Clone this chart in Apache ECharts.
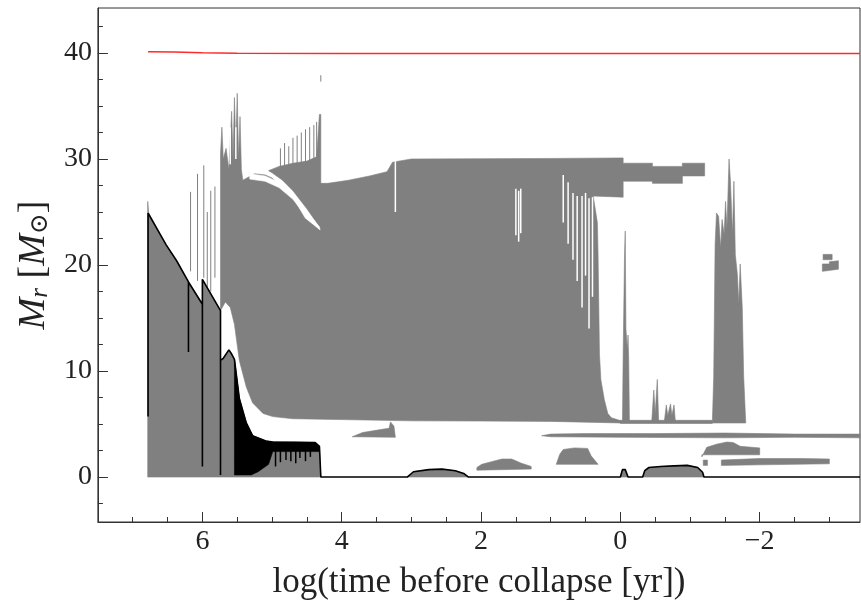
<!DOCTYPE html>
<html><head><meta charset="utf-8">
<script src="https://cdn.jsdelivr.net/npm/echarts@6/dist/echarts.min.js"></script>
<style>html,body{margin:0;padding:0;background:#fff;overflow:hidden}#c{width:861px;height:605px}</style>
</head><body><div id="c"></div>
<script>
// ---------- axis ticks ----------
const xMajorTicks = [-2, 0, 2, 4, 6];
const xMinorTicks = [-3, -2.5, -1.5, -1, -0.5, 0.5, 1, 1.5, 2.5, 3, 3.5, 4.5, 5, 5.5, 6.5, 7];
const yMajorTicks = [0, 10, 20, 30, 40];
const yMinorTicks = [-2.5, 2.5, 5, 7.5, 12.5, 15, 17.5, 22.5, 25, 27.5, 32.5, 35, 37.5, 42.5];

// ---------- lines: [log t, M_r] ----------
const totalMass = [[6.78,40.12],[6.4,40.08],[6.0,40.02],[5.5,39.97],[4.0,39.95],[2.0,39.95],[0.0,39.95],[-3.44,39.95]];
const coreBoundary = [[6.78,5.7],[6.78,24.9],[6.52,21.9],[6.37,20.4],[6.2,18.4],[6.2,11.8],[6.2,18.4],[6.0,16.3],[6.0,1.0],[6.0,18.65],
  [5.74,15.7],[5.74,0.2],[5.74,11.0],[5.70,11.2],[5.62,12.0],[5.58,11.6],[5.54,11.1],[5.47,7.4],[5.37,5.1],[5.28,3.9],[5.09,3.4],
  [4.99,3.3],[4.38,3.25],[4.32,2.9],[4.30,0],[3.06,0],[2.97,0.5],[2.75,0.7],[2.56,0.75],[2.37,0.6],[2.25,0.34],[2.18,0],
  [0.0,0],[-0.03,0.7],[-0.07,0.7],[-0.11,0],[-0.32,0],[-0.35,0.6],[-0.41,0.9],[-0.58,1.0],[-0.77,1.05],[-0.96,1.1],[-1.11,0.9],
  [-1.18,0.45],[-1.2,0],[-3.44,0]];

// ---------- convective zones (polygons) ----------
const coreZone = [[6.785,0],[6.785,26.0],[6.77,24.9],[6.52,21.9],[6.37,20.4],[6.2,18.4],[6.0,16.3],[6.0,18.65],[5.74,15.7],[5.74,11.0],
  [5.70,11.2],[5.62,12.0],[5.58,11.6],[5.54,11.1],[5.47,7.4],[5.37,5.1],[5.28,3.9],[5.09,3.4],[4.99,3.3],[4.38,3.25],[4.32,2.9],[4.30,0]];
const envelopeZone = [[5.74,15.7],[5.74,30.5],[5.72,33],[5.70,30],[5.66,31],[5.62,29],[5.58,34.5],[5.56,30],[5.54,35.8],[5.52,31],
  [5.50,36.2],[5.48,30],[5.46,34],[5.44,29],[5.42,28.0],[5.25,28.6],[5.1,28.5],[5.0,28.2],[4.7,26.3],[4.53,24.4],[4.32,23.3],
  [4.31,27.7],[4.2,27.7],[3.9,28.0],[3.6,28.4],[3.35,28.8],[3.27,29.7],[3.0,30.0],[1.0,30.05],[0.0,30.1],[-0.04,30.1],
  [-0.04,29.6],[-0.46,29.6],[-0.46,29.3],[-0.89,29.3],[-0.89,29.6],[-1.21,29.6],[-1.21,28.4],[-0.89,28.4],[-0.89,27.7],
  [-0.46,27.7],[-0.46,27.9],[-0.04,27.9],[-0.04,26.4],[0.39,26.5],[0.33,24],[0.32,21.0],[0.30,11.6],[0.28,9.2],[0.23,7.3],
  [0.18,6.0],[0.13,5.6],[-0.01,5.3],[-0.01,5.1],[1.0,5.25],[2.0,5.28],[3.0,5.3],[3.85,5.4],[4.70,5.5],[4.99,5.7],[5.13,6.0],
  [5.28,7.0],[5.37,8.5],[5.47,11.0],[5.54,14.4],[5.60,16.0],[5.67,16.5]];
const shellSliver = [[5.05,28.9],[4.9,29.3],[4.7,29.6],[4.5,29.8],[4.36,30.2],[4.32,34.2],[4.30,34.2],[4.30,23.3],[4.35,23.9],
  [4.5,25.3],[4.7,27.0],[4.85,28.0],[5.0,28.7]];
const tailStrip = [[0.0,5.35],[-1.32,5.35],[-1.32,5.05],[0.0,5.05]];
const flashA = [[-0.03,5.2],[-0.04,11.5],[-0.06,21],[-0.07,23.2],[-0.08,14],[-0.10,12],[-0.11,13.4],[-0.12,11],[-0.13,5.2]];
const flashB = [[-0.45,5.2],[-0.48,8.2],[-0.50,6],[-0.53,9.2],[-0.55,5.2]];
const flashC = [[-0.63,5.2],[-0.66,6.8],[-0.68,5.8],[-0.72,6.9],[-0.74,5.8],[-0.77,6.8],[-0.79,5.2]];
const lateSpikes = [[-1.32,5.1],[-1.34,9.5],[-1.36,21.9],[-1.38,24.9],[-1.41,24.6],[-1.44,21.6],[-1.46,24.3],[-1.49,22.9],[-1.51,26.0],
  [-1.53,23.5],[-1.56,30.0],[-1.58,27.9],[-1.61,22.9],[-1.63,27.9],[-1.65,21.0],[-1.68,19.1],[-1.70,16.3],[-1.72,20.1],[-1.75,16.0],
  [-1.77,9.5],[-1.80,5.1]];
const blobHigh1 = [[-2.91,21.0],[-3.04,21.0],[-3.04,20.5],[-2.91,20.5]];
const blobHigh2 = [[-2.90,20.1],[-3.0,20.1],[-3.0,20.3],[-3.13,20.4],[-3.13,19.6],[-2.90,19.4]];
const shellA = [[3.85,3.8],[3.70,4.2],[3.42,4.5],[3.32,4.6],[3.30,5.2],[3.25,4.8],[3.23,3.75]];
const shellB = [[2.06,0.9],[1.99,1.2],[1.85,1.45],[1.70,1.7],[1.56,1.7],[1.42,1.3],[1.28,1.0],[1.28,0.75],[2.06,0.65]];
const shellC = [[0.92,1.2],[0.87,2.15],[0.82,2.6],[0.66,2.75],[0.47,2.7],[0.42,2.0],[0.32,1.2]];
const shellD = [[1.13,3.9],[1.0,4.05],[0.5,4.1],[-0.5,4.1],[-1.5,4.15],[-2.5,4.05],[-3.44,4.05],[-3.44,3.7],[-2.5,3.75],[-1.5,3.7],[0,3.75],[1.0,3.8]];
const shellE = [[-1.17,1.9],[-1.24,2.8],[-1.38,3.1],[-1.53,3.3],[-1.62,3.25],[-1.72,2.9],[-2.0,2.75],[-2.0,2.1],[-1.17,2.1]];
const shellF = [[-1.45,1.6],[-2.0,1.75],[-2.6,1.75],[-3.0,1.7],[-3.0,1.25],[-2.0,1.15],[-1.45,1.1]];
const shellG = [[-1.19,1.1],[-1.25,1.1],[-1.25,1.6],[-1.19,1.6]];
const burnA = [[3.06,0],[2.97,0.5],[2.75,0.7],[2.56,0.75],[2.37,0.6],[2.25,0.34],[2.18,0]];
const burnB = [[0.0,0],[-0.03,0.7],[-0.07,0.7],[-0.11,0]];
const burnC = [[-0.32,0],[-0.35,0.6],[-0.41,0.9],[-0.58,1.0],[-0.77,1.05],[-0.96,1.1],[-1.11,0.9],[-1.18,0.45],[-1.2,0]];
const denseZone = [[5.54,0.2],[5.54,11.1],[5.47,7.4],[5.37,5.1],[5.28,3.9],[5.09,3.4],[4.99,3.3],[4.38,3.25],[4.32,2.9],[4.32,2.4],
  [4.99,2.4],[5.05,1.2],[5.2,0.5],[5.3,0.2]];

// ---------- vertical segments: [log t, M bottom, M top] ----------
const grayHairs = [[6.17,19.4,26.9],[6.07,18.5,28.6],[5.98,18.8,29.4],[5.93,17.5,25],[5.88,17.5,27],[5.82,18.8,27.4],
  [4.88,29,31],[4.82,29,31.5],[4.76,29,31.2],[4.70,29,32],[4.64,29,32.2],[4.58,29,32.5],[4.52,29,32.8],[4.46,29,33],
  [4.40,29,33.2],[4.36,29,33.5],[4.30,37.3,37.9]];
const whiteGaps = [[3.23,25,29.8],[1.50,22.8,27.2],[1.46,22.2,27],[1.43,23,27.2],[0.82,24,28.5],[0.75,22,27.8],[0.68,20.5,26.8],
  [0.62,18.5,26.5],[0.55,16,26.5],[0.50,19,26.8],[0.45,14,26.3],[0.40,17,26.4],[5.60,29.5,33],[5.52,30,33]];
const blackHairs = [[4.95,1.0,3.3],[4.88,1.4,3.3],[4.80,1.6,3.3],[4.73,1.5,3.3],[4.66,1.3,3.3],[4.60,1.8,3.3],[4.52,1.5,3.3],[4.45,1.9,3.3]];

const grayPolys = [coreZone, envelopeZone, shellSliver, tailStrip, flashA, flashB, flashC, lateSpikes, blobHigh1, blobHigh2,
  shellA, shellB, shellC, shellD, shellE, shellF, shellG, burnA, burnB, burnC];
const whiteBand = [[5.32,28.6],[5.1,28.4],[4.9,27.8],[4.7,26.7],[4.5,25.0],[4.32,23.6],[4.31,23.3],[4.5,24.5],[4.7,26.2],[4.9,27.3],[5.1,27.9],[5.32,28.1]];

const GRAY = '#808080';
const FONT = '"Liberation Serif", "DejaVu Serif", serif';

function polySeries(polys, color, z) {
  return {
    type: 'custom', z: z, silent: true, clip: true,
    data: polys.map((p, i) => [p[0][0], p[0][1], i]),
    renderItem: function (params, api) {
      const poly = polys[params.dataIndex];
      return { type: 'polygon', shape: { points: poly.map(pt => api.coord(pt)) },
               style: { fill: color, stroke: color, lineWidth: 0.6 } };
    }
  };
}
function segSeries(segs, color, width, z) {
  return {
    type: 'custom', z: z, silent: true, clip: true,
    data: segs,
    encode: { x: 0, y: [1, 2] },
    renderItem: function (params, api) {
      const a = api.coord([api.value(0), api.value(1)]);
      const b = api.coord([api.value(0), api.value(2)]);
      return { type: 'line', shape: { x1: a[0], y1: a[1], x2: b[0], y2: b[1] },
               style: { stroke: color, lineWidth: width } };
    }
  };
}

const axisCol = '#333';
const chart = echarts.init(document.getElementById('c'));
chart.setOption({
  animation: false,
  backgroundColor: '#fff',
  grid: { left: 95, right: 1, top: 8, bottom: 78, show: true, borderColor: axisCol, borderWidth: 1, backgroundColor: 'transparent' },
  xAxis: [{
    type: 'value', inverse: true, min: -3.44, max: 7.5, position: 'bottom',
    axisLine: { show: true, onZero: false, lineStyle: { color: axisCol, width: 1 } },
    axisTick: { show: true, inside: true, length: 10, customValues: xMajorTicks, lineStyle: { color: axisCol } },
    axisLabel: { customValues: xMajorTicks, margin: 6, fontFamily: FONT, fontSize: 28, color: '#222',
      formatter: v => (v < 0 ? '\u2212' + (-v) : String(v)) },
    splitLine: { show: false },
    name: 'log(time before collapse [yr])', nameLocation: 'middle', nameGap: 43,
    nameTextStyle: { fontFamily: FONT, fontSize: 35, color: '#222' }
  }, {
    type: 'value', inverse: true, min: -3.44, max: 7.5, position: 'bottom',
    axisLine: { show: false, onZero: false },
    axisTick: { show: true, inside: true, length: 5, customValues: xMinorTicks, lineStyle: { color: axisCol } },
    axisLabel: { show: false }, splitLine: { show: false }
  }],
  yAxis: [{
    type: 'value', min: -4.24, max: 44.24, position: 'left',
    axisLine: { show: true, onZero: false, lineStyle: { color: axisCol, width: 1 } },
    axisTick: { show: true, inside: true, length: 10, customValues: yMajorTicks, lineStyle: { color: axisCol } },
    axisLabel: { customValues: yMajorTicks, margin: 6, fontFamily: FONT, fontSize: 28, color: '#222' },
    splitLine: { show: false },
    name: '{it|M}{sub|r} [{it|M}{sub|\u2299}]', nameLocation: 'middle', nameGap: 44, nameRotate: 90,
    nameTextStyle: { fontFamily: FONT, fontSize: 38, color: '#222',
      rich: {
        it: { fontFamily: FONT, fontStyle: 'italic', fontSize: 38, lineHeight: 36, verticalAlign: 'top', color: '#222' },
        sub: { fontFamily: FONT, fontStyle: 'italic', fontSize: 25, lineHeight: 22, padding: [20, 0, 0, 0], verticalAlign: 'bottom', color: '#222' }
      } }
  }, {
    type: 'value', min: -4.24, max: 44.24, position: 'left',
    axisLine: { show: false, onZero: false },
    axisTick: { show: true, inside: true, length: 5, customValues: yMinorTicks, lineStyle: { color: axisCol } },
    axisLabel: { show: false }, splitLine: { show: false }
  }],
  series: [
    polySeries(grayPolys, GRAY, 1),
    segSeries(grayHairs, GRAY, 1, 2),
    polySeries([whiteBand], '#ffffff', 3),
    segSeries(whiteGaps, '#ffffff', 1.5, 3),
    polySeries([denseZone], '#000000', 4),
    segSeries(blackHairs, '#000000', 1.5, 4),
    { type: 'line', data: coreBoundary, showSymbol: false, silent: true, z: 5,
      lineStyle: { color: '#000', width: 1.6 } },
    { type: 'line', data: totalMass, showSymbol: false, silent: true, z: 6,
      lineStyle: { color: '#ff2a2a', width: 1.5 } }
  ]
});
</script>
</body></html>
